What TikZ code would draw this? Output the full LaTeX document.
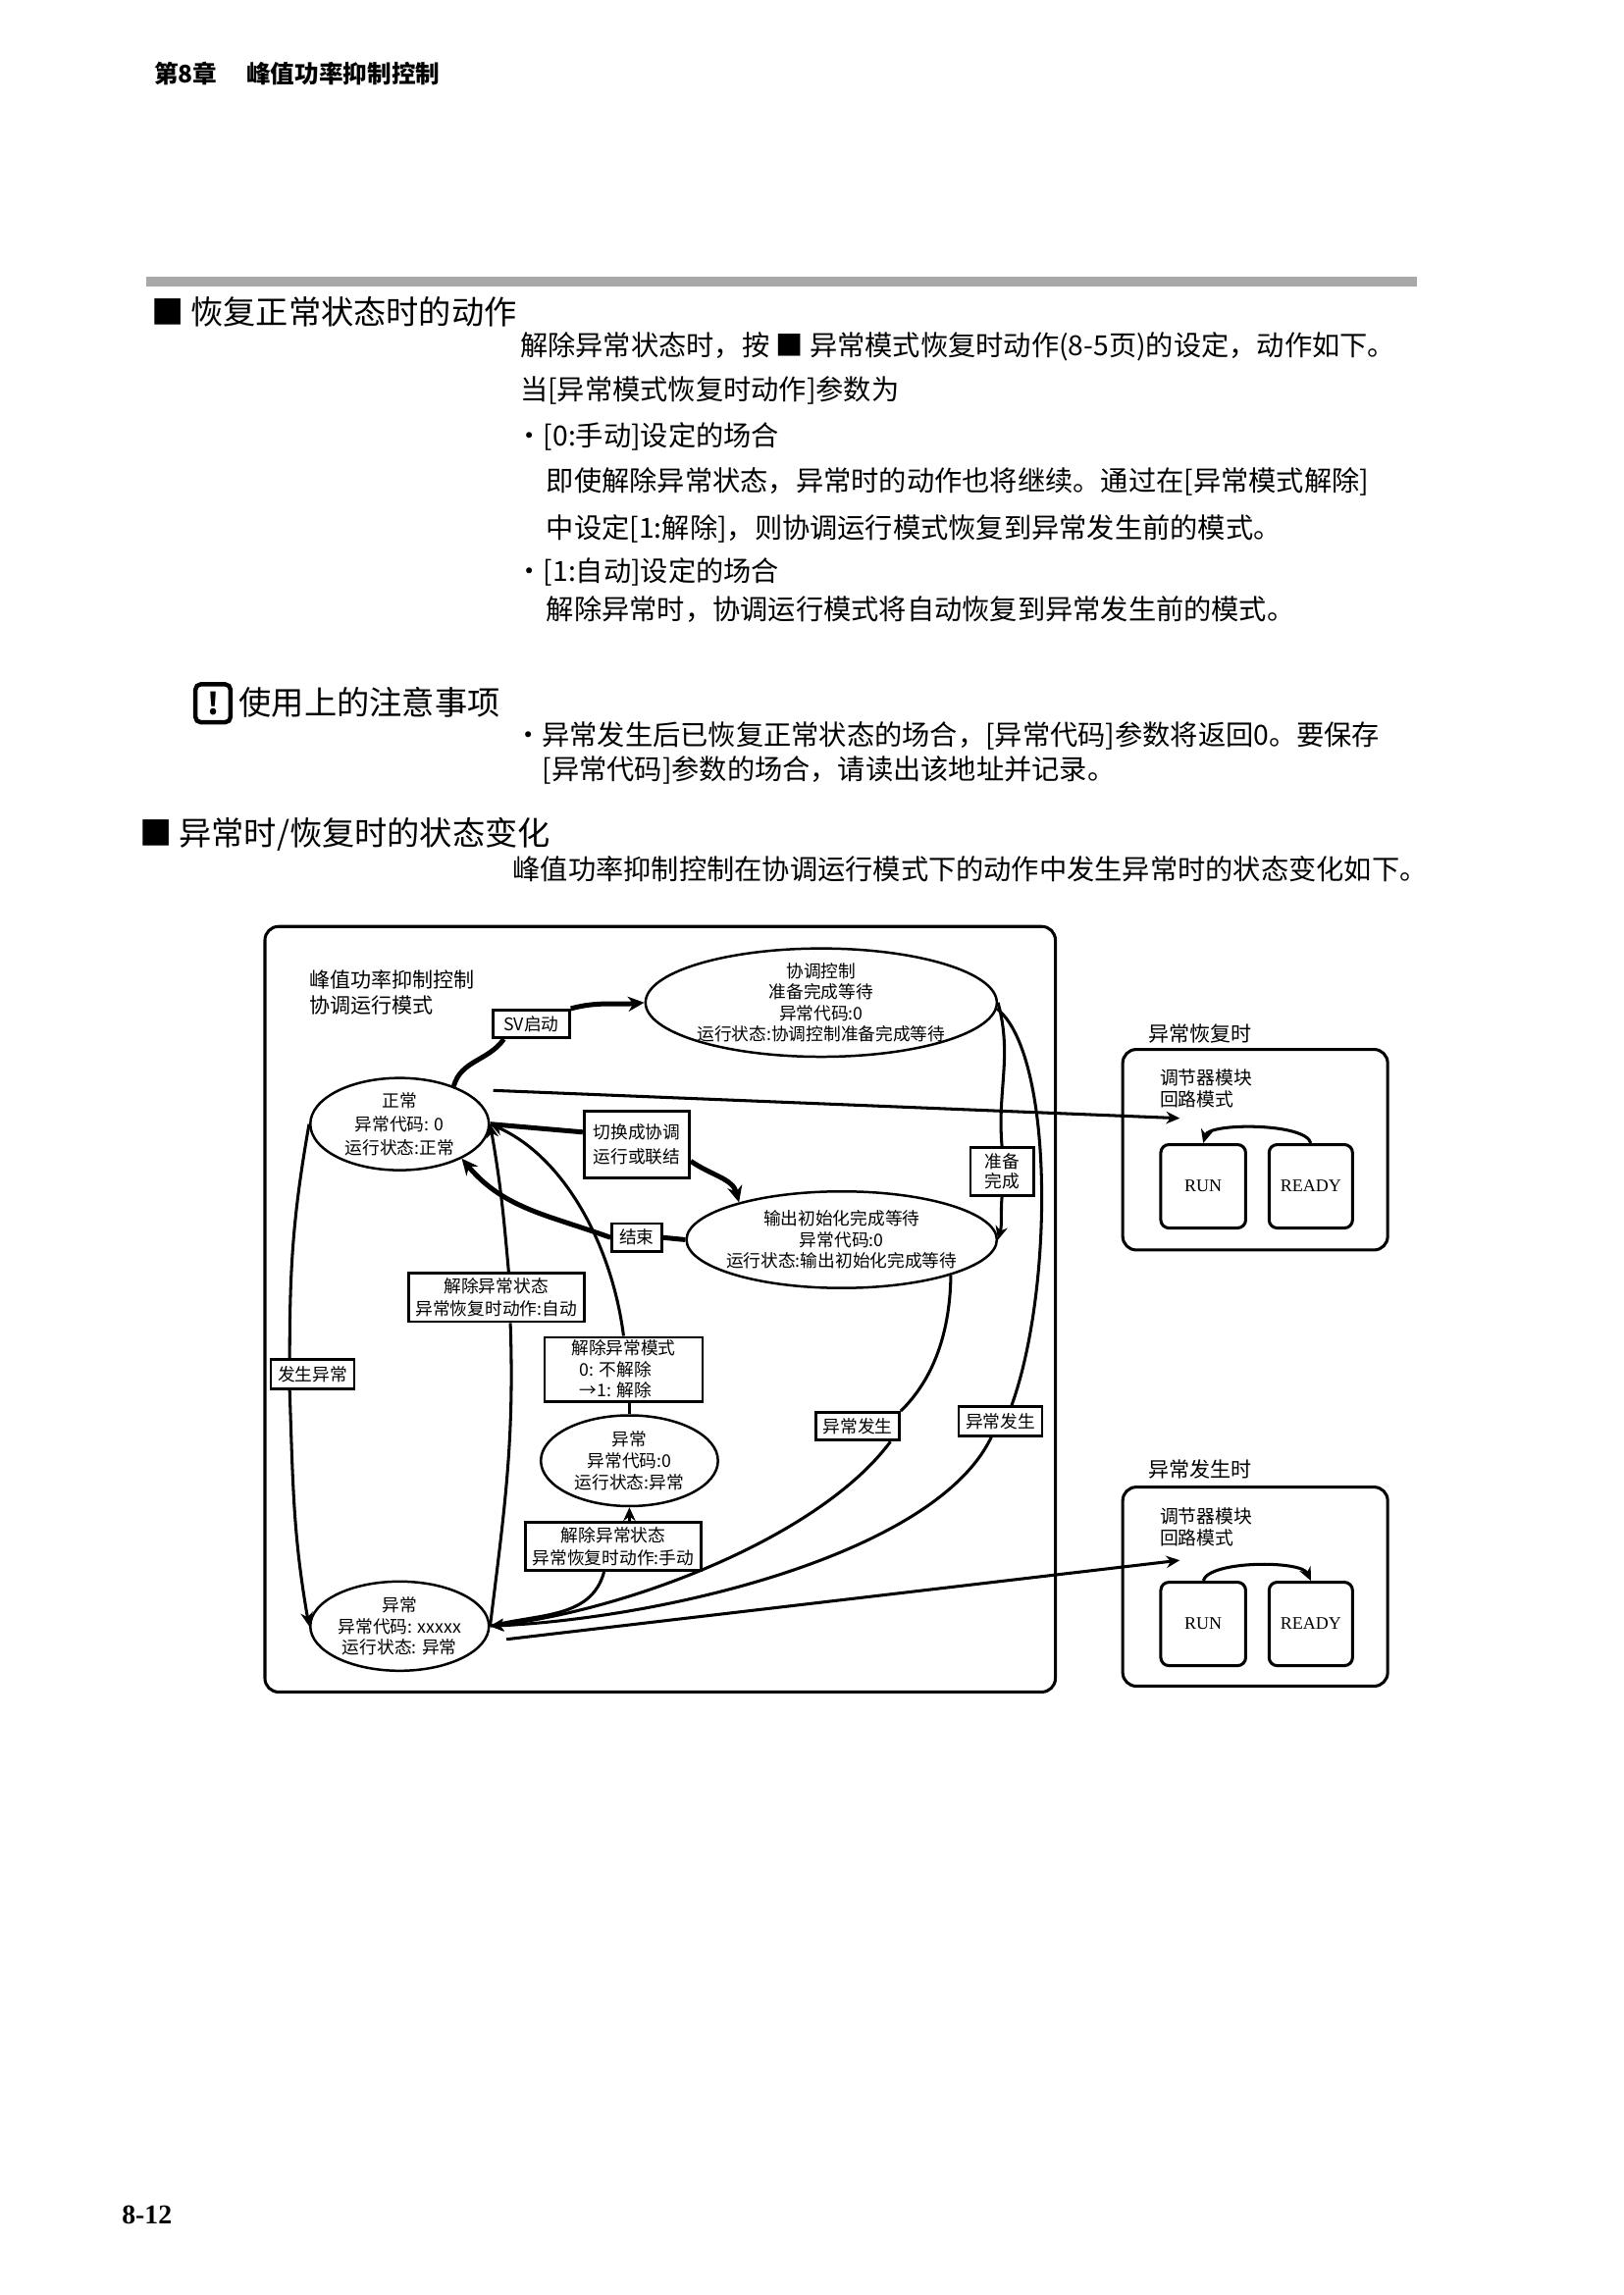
\documentclass[tikz,border=0pt]{standalone}
\usepackage{fontspec}
\setmainfont{Noto Sans CJK SC}
\newfontfamily\latinserif{Liberation Serif}
\usepackage{tikz}
\usetikzlibrary{shapes.geometric,arrows.meta,positioning,calc}
\definecolor{BarGray}{HTML}{A8A8A8}
\newcommand\ovu{0.018936cm}
\tikzset{
  state/.style={ellipse,draw,line width=0.9pt,fill=white,inner xsep=-6pt,inner ysep=-3pt,align=center,font=\fontsize{6.4}{7.8}\selectfont},
  tag/.style={rectangle,draw,line width=1pt,fill=white,inner xsep=2.5pt,inner ysep=1pt,align=center,font=\fontsize{6.4}{8.4}\selectfont},
  arrow/.style={-{Stealth[length=5pt,width=4.5pt]},line width=1.1pt},
  link/.style={line width=1.1pt},
  heavyarrow/.style={-{Stealth[length=6pt,width=5.5pt]},line width=1.8pt},
  heavylink/.style={line width=1.8pt},
  modebox/.style={rectangle,rounded corners=5pt,draw,line width=1.1pt},
  unitbox/.style={rectangle,rounded corners=3pt,draw,line width=1.1pt,inner sep=0pt,font=\latinserif\fontsize{6.5}{7}\selectfont},
  caption/.style={anchor=west,inner sep=0pt,align=left,font=\fontsize{7.6}{9.6}\selectfont},
  bodytext/.style={anchor=west,inner sep=0pt,font=\fontsize{10.2}{12}\selectfont},
  heading/.style={anchor=west,inner sep=0pt,font=\fontsize{12}{14}\selectfont},
  pagehead/.style={anchor=west,inner sep=0pt,font=\bfseries\fontsize{8.9}{10}\selectfont},
}

\begin{document}
\begin{tikzpicture}[x=0.018936cm,y=-0.018936cm]
  \fill[white] (0,0) rectangle (1109,1568);
  \useasboundingbox (0,0) rectangle (1109,1568);

  \node[pagehead] (chap) at (105,50) {第8章};
  \node[pagehead] (chaptitle) at (168,50) {峰值功率抑制控制};
  \fill[BarGray] (100,189) rectangle (968,196);

  \node[heading] (sec1) at (103,213) {■\hspace{2.5pt}恢复正常状态时的动作};
  \node[bodytext] (p1) at (355,237) {解除异常状态时，按 ■ 异常模式恢复时动作(8-5页)的设定，动作如下。};
  \node[bodytext] (p2) at (355,267) {当[异常模式恢复时动作]参数为};
  \node[bodytext] (p3) at (352,298) {・[0:手动]设定的场合};
  \node[bodytext] (p4) at (373,329) {即使解除异常状态，异常时的动作也将继续。通过在[异常模式解除]};
  \node[bodytext] (p5) at (373,361) {中设定[1:解除]，则协调运行模式恢复到异常发生前的模式。};
  \node[bodytext] (p6) at (352,391) {・[1:自动]设定的场合};
  \node[bodytext] (p7) at (373,416) {解除异常时，协调运行模式将自动恢复到异常发生前的模式。};

  \node[draw,rounded corners=2pt,line width=1.6pt,minimum width=24*\ovu,minimum height=26*\ovu,inner sep=0pt,font=\bfseries\fontsize{11}{11}\selectfont] (noteicon) at (145.5,480.5) {!};
  \node[heading] (sec2) at (163,480) {使用上的注意事项};
  \node[bodytext] (n1) at (351,503) {・异常发生后已恢复正常状态的场合，[异常代码]参数将返回0。要保存};
  \node[bodytext] (n2) at (370,526) {[异常代码]参数的场合，请读出该地址并记录。};

  \node[heading] (sec3) at (95,570) {■\hspace{2.5pt}异常时/恢复时的状态变化};
  \node[bodytext] (p8) at (350,594) {峰值功率抑制控制在协调运行模式下的动作中发生异常时的状态变化如下。};

  \draw[modebox] (181,633) rectangle (721,1156);
  \node[caption] (modetitle) at (211,678) {峰值功率抑制控制\\协调运行模式};

  \node[state,minimum width=240*\ovu,minimum height=74*\ovu] (coopwait) at (561,685) {协调控制\\准备完成等待\\异常代码:0\\运行状态:协调控制准备完成等待};
  \node[state,minimum width=122*\ovu,minimum height=63*\ovu,font=\fontsize{6.4}{8.6}\selectfont] (normal) at (273,768) {正常\\异常代码: 0\\运行状态:正常};
  \node[state,minimum width=212*\ovu,minimum height=66*\ovu] (initwait) at (575,847) {输出初始化完成等待\\异常代码:0\\运行状态:输出初始化完成等待};
  \node[state,minimum width=121*\ovu,minimum height=62*\ovu,font=\fontsize{6.4}{8}\selectfont] (errhold) at (430,998) {异常\\异常代码:0\\运行状态:异常};
  \node[state,minimum width=122*\ovu,minimum height=61*\ovu] (error) at (273,1111) {异常\\异常代码: xxxxx\\运行状态: 异常};

  \node[tag,minimum width=52*\ovu,minimum height=19*\ovu] (sv) at (363,699.5) {SV启动};
  \node[tag,minimum width=72*\ovu,minimum height=46*\ovu,font=\fontsize{6.4}{9}\selectfont] (switch) at (435,782) {切换成协调\\运行或联结};
  \node[tag,minimum width=43*\ovu,minimum height=33*\ovu,font=\fontsize{6.4}{7.2}\selectfont] (ready) at (684.5,800.5) {准备\\完成};
  \node[tag,minimum width=34*\ovu,minimum height=19*\ovu] (finish) at (435,845.5) {结束};
  \node[tag,minimum width=120*\ovu,minimum height=33*\ovu] (autoclr) at (339,886.5) {解除异常状态\\异常恢复时动作:自动};
  \node[tag,minimum width=108*\ovu,minimum height=43*\ovu,align=left,font=\fontsize{6.4}{7.8}\selectfont] (clrmode) at (426,935.5) {解除异常模式\\\hspace{3pt}0: 不解除\\\hspace{3pt}→1: 解除};
  \node[tag,minimum width=57*\ovu,minimum height=20*\ovu] (occur) at (213.5,939) {发生异常};
  \node[tag,minimum width=56*\ovu,minimum height=19*\ovu] (errocc1) at (586,974.5) {异常发生};
  \node[tag,minimum width=57*\ovu,minimum height=20*\ovu] (errocc2) at (683.5,971) {异常发生};
  \node[tag,minimum width=120*\ovu,minimum height=33*\ovu] (manclr) at (419,1056.5) {解除异常状态\\异常恢复时动作:手动};

  \draw[heavylink] (normal.35) to[out=75,in=235] (sv.209);
  \draw[heavyarrow] (sv.north east) to[out=15,in=185] (coopwait.west);
  \draw[heavylink] (normal.east) -- (switch.167);
  \draw[heavyarrow] (switch.-17) to[out=-35,in=105] (initwait.160);
  \draw[link] (coopwait.east) to[out=-75,in=95] (ready.north);
  \draw[arrow] (ready.south) to[out=-95,in=75] (initwait.east);
  \draw[link] (coopwait.-2) .. controls (720,720) and (720,880) .. (errocc2.55);
  \draw[arrow] (errocc2.-120) .. controls (640,1060) and (460,1105) .. (error.east);
  \draw[link] (initwait.-18) .. controls (649,915) and (635,945) .. (errocc1.north east);
  \draw[arrow] (errocc1.-25) .. controls (560,1050) and (430,1100) .. (error.east);
  \draw[heavylink] (initwait.west) -- (finish.east);
  \draw[heavyarrow] (finish.west) to[out=160,in=-50] (normal.-29);
  \draw[link] (error.east) to[out=15,in=-105] (manclr.-110);
  \draw[arrow] (errhold.south |- manclr.north) -- (errhold.south);
  \draw[link] (errhold.north) -- (errhold.north |- clrmode.south);
  \draw[arrow] (clrmode.north) .. controls (418,850) and (385,790) .. (normal.east);
  \draw[link] (error.east) to[out=83,in=-88] (autoclr.-61);
  \draw[arrow] (autoclr.64) to[out=95,in=-80] (normal.east);
  \draw[link] (normal.west) to[out=-100,in=90] (occur.145);
  \draw[arrow] (occur.215) to[out=-88,in=100] (error.west);

  \node[caption] (rectitle) at (784,706) {异常恢复时};
  \draw[modebox] (767,717) rectangle (948,854);
  \node[caption,font=\fontsize{6.8}{7.8}\selectfont] (recunit) at (792,743.5) {调节器模块\\回路模式};
  \node[unitbox,minimum width=58*\ovu,minimum height=57*\ovu] (run1) at (822,810.5) {RUN};
  \node[unitbox,minimum width=57*\ovu,minimum height=57*\ovu] (ready1) at (895.5,810.5) {READY};
  \draw[arrow] (ready1.north) .. controls (892,767) and (826,767) .. (run1.north);

  \node[caption] (occtitle) at (784,1004) {异常发生时};
  \draw[modebox] (767,1016) rectangle (948,1152);
  \node[caption,font=\fontsize{6.8}{7.8}\selectfont] (occunit) at (792,1043.5) {调节器模块\\回路模式};
  \node[unitbox,minimum width=58*\ovu,minimum height=57*\ovu] (run2) at (822,1109.5) {RUN};
  \node[unitbox,minimum width=57*\ovu,minimum height=57*\ovu] (ready2) at (895.5,1109.5) {READY};
  \draw[arrow] (run2.north) .. controls (826,1066) and (889,1066) .. (ready2.north);

  \coordinate (normtail) at (337,745);
  \coordinate (rectip) at (806,764);
  \draw[arrow] (normtail) -- (rectip);
  \coordinate (errtail) at (346,1120);
  \coordinate (occtip) at (806,1066);
  \draw[arrow] (errtail) -- (occtip);

  \node[anchor=west,inner sep=0pt,font=\latinserif\bfseries\fontsize{10}{12}\selectfont] (pageno) at (83,1513) {8-12};
\end{tikzpicture}
\end{document}
